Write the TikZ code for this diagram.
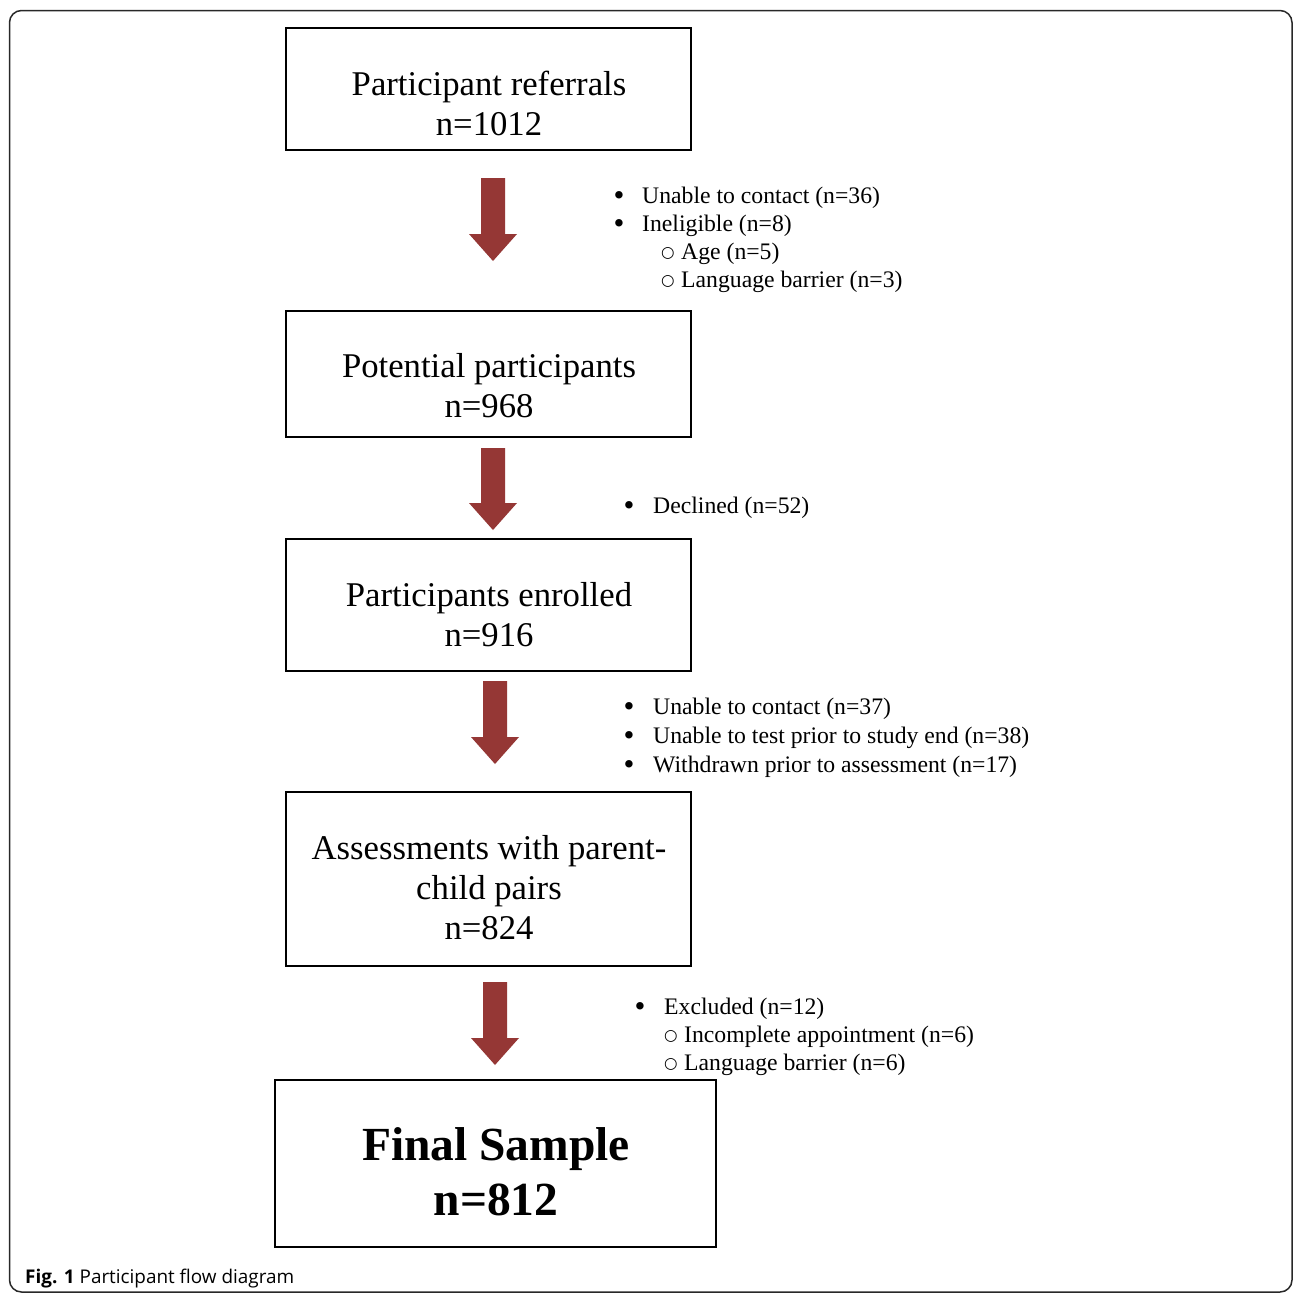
\documentclass[tikz,border=0pt]{standalone}
\usepackage{fontspec}
\setmainfont{Liberation Serif}
\newfontfamily\capfont{Open Sans}
\newfontfamily\symfont{DejaVu Sans}
\definecolor{arrowred}{RGB}{149,55,53}
\definecolor{framegray}{RGB}{40,40,40}
\newcommand\blockarrow[3]{% cx, top, tip
  \fill[arrowred] (#1-12,#2) -- (#1+12,#2) -- (#1+12,#3-27) -- (#1+24,#3-27) -- (#1,#3) -- (#1-24,#3-27) -- (#1-12,#3-27) -- cycle;}
\begin{document}
\begin{tikzpicture}[x=1pt,y=-1pt,
  box/.style={draw=black, line width=2pt, inner sep=0pt, fill=none},
  big/.style={font=\fontsize{34.7}{40}\selectfont, anchor=base, inner sep=0pt},
  bigbold/.style={font=\fontsize{47.5}{55}\selectfont\bfseries, anchor=base, inner sep=0pt},
  note/.style={font=\fontsize{23.7}{28}\selectfont, anchor=base west, inner sep=0pt},
  dot/.style={font=\fontsize{31}{28}\selectfont, anchor=base, inner sep=0pt, yshift=-2.5pt},
  subdot/.style={font=\fontsize{15.5}{28}\symfont, anchor=base, inner sep=0pt, yshift=2pt}]
\useasboundingbox (0,0) rectangle (1293,1293);
\fill[white] (0,0) rectangle (1293,1293);
\draw[line width=1.5pt, rounded corners=12pt, draw=framegray] (9.5,10.5) rectangle (1292,1292);

% boxes
\node[box, minimum width=405pt, minimum height=122pt] (b1) at (488.5,89) {};
\node[box, minimum width=405pt, minimum height=126pt] (b2) at (488.5,374) {};
\node[box, minimum width=405pt, minimum height=132pt] (b3) at (488.5,605) {};
\node[box, minimum width=405pt, minimum height=174pt] (b4) at (488.5,879) {};
\node[box, minimum width=441pt, minimum height=167pt] (b5) at (495.5,1163.5) {};

% box texts
\node[big] (t1a) at (489,95) {Participant referrals};
\node[big] (t1b) at (489,135) {n=1012};
\node[big] (t2a) at (489,377) {Potential participants};
\node[big] (t2b) at (489,417) {n=968};
\node[big] (t3a) at (489,606) {Participants enrolled};
\node[big] (t3b) at (489,646) {n=916};
\node[big] (t4a) at (489,859) {Assessments with parent-};
\node[big] (t4b) at (489,899) {child pairs};
\node[big] (t4c) at (489,939) {n=824};
\node[bigbold] (t5a) at (496,1160) {Final Sample};
\node[bigbold] (t5b) at (496,1215) {n=812};

% block arrows
\blockarrow{493}{178}{261}
\blockarrow{493}{448}{530}
\blockarrow{495}{681}{764}
\blockarrow{495}{982}{1065}

% notes 1
\node[dot] (d11) at (619,203) {•};
\node[note] (n11) at (642,203) {Unable to contact (n=36)};
\node[dot] (d12) at (619,231) {•};
\node[note] (n12) at (642,231) {Ineligible (n=8)};
\node[subdot] (s11) at (668,259) {○};
\node[note] (n13) at (681,259) {Age (n=5)};
\node[subdot] (s12) at (668,287) {○};
\node[note] (n14) at (681,287) {Language barrier (n=3)};

% notes 2
\node[dot] (d21) at (629,513) {•};
\node[note] (n21) at (653,513) {Declined (n=52)};

% notes 3
\node[dot] (d31) at (629,714) {•};
\node[note] (n31) at (653,714) {Unable to contact (n=37)};
\node[dot] (d32) at (629,743) {•};
\node[note] (n32) at (653,743) {Unable to test prior to study end (n=38)};
\node[dot] (d33) at (629,772) {•};
\node[note] (n33) at (653,772) {Withdrawn prior to assessment (n=17)};

% notes 4
\node[dot] (d41) at (640,1014) {•};
\node[note] (n41) at (664,1014) {Excluded (n=12)};
\node[subdot] (s41) at (671,1042) {○};
\node[note] (n42) at (684,1042) {Incomplete appointment (n=6)};
\node[subdot] (s42) at (671,1070) {○};
\node[note] (n43) at (684,1070) {Language barrier (n=6)};

% caption
\node[font=\fontsize{18.9}{24}\capfont, anchor=base west, inner sep=0pt] (cap) at (25,1283) {\textbf{Fig. 1} Participant flow diagram};
\end{tikzpicture}
\end{document}
